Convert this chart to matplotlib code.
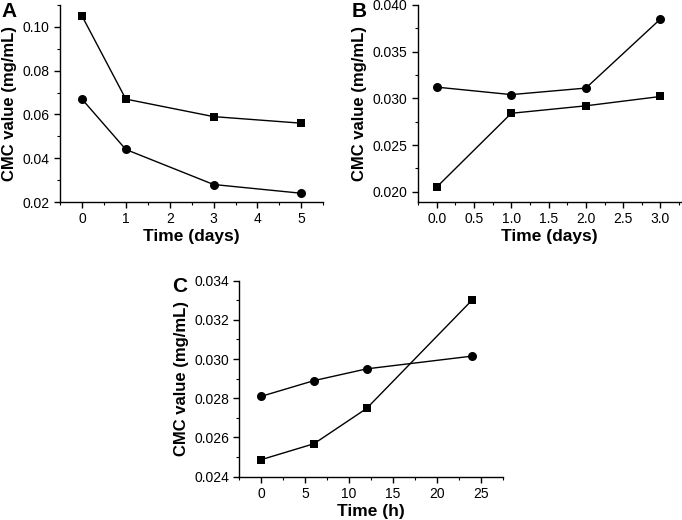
import matplotlib
matplotlib.use("Agg")
import matplotlib.pyplot as plt
from matplotlib.ticker import MultipleLocator, FormatStrFormatter

plt.rcParams["font.family"] = ["Liberation Sans", "DejaVu Sans"]

# panel A
days_a = [0, 1, 3, 5]
square_a = [0.105, 0.067, 0.059, 0.056]
circle_a = [0.067, 0.044, 0.028, 0.024]

# panel B
days_b = [0, 1, 2, 3]
circle_b = [0.0312, 0.0304, 0.0311, 0.0385]
square_b = [0.0205, 0.0284, 0.0292, 0.0302]

# panel C
hours_c = [0, 6, 12, 24]
circle_c = [0.0281, 0.0289, 0.0295, 0.03015]
square_c = [0.02487, 0.02568, 0.02748, 0.0330]

YLABEL = "CMC value (mg/mL)"


def style_axis(ax, xlim, ylim, xmaj, xmin, ymaj, ymin, xfmt, yfmt, xlabel):
    ax.set_xlim(*xlim)
    ax.set_ylim(*ylim)
    ax.xaxis.set_major_locator(MultipleLocator(xmaj))
    ax.xaxis.set_minor_locator(MultipleLocator(xmin))
    ax.yaxis.set_major_locator(MultipleLocator(ymaj))
    ax.yaxis.set_minor_locator(MultipleLocator(ymin))
    ax.xaxis.set_major_formatter(FormatStrFormatter(xfmt))
    ax.yaxis.set_major_formatter(FormatStrFormatter(yfmt))
    for side in ("top", "right"):
        ax.spines[side].set_visible(False)
    for side in ("left", "bottom"):
        ax.spines[side].set_linewidth(1.0)
    ax.tick_params(which="major", direction="out", length=4, width=1, labelsize=10)
    ax.tick_params(which="minor", direction="out", length=2.5, width=0.8)
    ax.set_xlabel(xlabel, fontsize=12.5, fontweight="bold", labelpad=2)
    ax.set_ylabel(YLABEL, fontsize=12, fontweight="bold", labelpad=4)


def draw(ax, x, y, marker):
    ax.plot(x, y, color="black", linewidth=1.0, marker=marker,
            markersize=6.5 if marker == "o" else 6, markeredgewidth=0,
            clip_on=False)


fig = plt.figure(figsize=(6.82, 5.2), dpi=100)

ax_a = fig.add_axes([0.088, 0.6115, 0.386, 0.379])
draw(ax_a, days_a, square_a, "s")
draw(ax_a, days_a, circle_a, "o")
style_axis(ax_a, (-0.5, 5.5), (0.02, 0.11), 1, 0.5, 0.02, 0.01,
           "%d", "%.2f", "Time (days)")

ax_b = fig.add_axes([0.613, 0.6115, 0.385, 0.379])
draw(ax_b, days_b, circle_b, "o")
draw(ax_b, days_b, square_b, "s")
style_axis(ax_b, (-0.25, 3.27), (0.0189, 0.040), 0.5, 0.25, 0.005, 0.0025,
           "%.1f", "%.3f", "Time (days)")

ax_c = fig.add_axes([0.351, 0.0833, 0.386, 0.377])
draw(ax_c, hours_c, circle_c, "o")
draw(ax_c, hours_c, square_c, "s")
style_axis(ax_c, (-2.5, 27.5), (0.024, 0.034), 5, 2.5, 0.002, 0.001,
           "%d", "%.3f", "Time (h)")

fig.text(0.002, 0.997, "A", fontsize=15, fontweight="bold", va="top", ha="left")
fig.text(0.515, 0.997, "B", fontsize=15, fontweight="bold", va="top", ha="left")
fig.text(0.252, 0.468, "C", fontsize=15, fontweight="bold", va="top", ha="left")

fig.savefig("out.png", dpi=100)
